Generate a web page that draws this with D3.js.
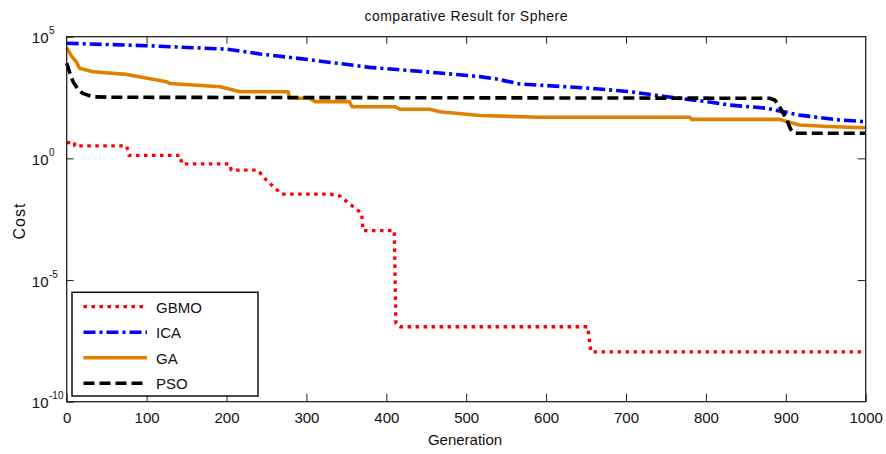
<!DOCTYPE html>
<html><head><meta charset="utf-8">
<script src="https://cdn.jsdelivr.net/npm/d3@7"></script>
<style>body{margin:0;background:#fff}svg{display:block;font-family:"Liberation Sans",Arial,sans-serif}</style>
</head><body>
<svg id="c" width="886" height="454"></svg>
<script>
const title = "comparative Result for Sphere";
const xLabel = "Generation";
const yLabel = "Cost";
const xTicks = [0,100,200,300,400,500,600,700,800,900,1000];
const yTicks = [1e-10,1e-5,1,1e5];
const yTickExp = ["-10","-5","0","5"];
const seriesNames = ["GBMO","ICA","GA","PSO"];

const gbmoGen  = [0,10,10,75,78,142,144,204,206,239,250,269,330,342,355,369,371,410,412,417,652,656,1000];
const gbmoCost = [4.47,4.47,3.24,3.24,1.33,1.33,0.59,0.59,0.33,0.33,0.126,0.034,0.034,0.028,0.0126,0.0056,0.00107,0.00107,1.66e-7,1.2e-7,1.2e-7,1.12e-8,1.12e-8];

const icaGen  = [0,100,200,242,292,379,463,517,538,567,655,705,751,801,830,876,917,967,1000];
const icaCost = [53700,42700,30900,19500,12600,5500,3310,2290,1820,1150,759,550,339,214,155,115,60,38,32];

const gaGen  = [0,6,12,16,33,75,125,129,192,217,277,279,304,311,354,357,411,417,454,467,517,592,780,782,892,917,960,1000];
const gaCost = [35500,15800,9330,5010,3630,2820,1410,1200,871,550,550,295,295,214,214,132,132,105,105,83,57.5,49,49,40,40,23.4,20,18.2];

const psoGen  = [0,4,8,14,20,33,60,880,886,890,896,901,906,911,1000];
const psoCost = [8130,3160,1410,708,468,339,324,295,251,178,79,40,15.8,10.7,10.7];

const styles = [
  {color:"#ff0000", width:3.3, dash:"3.5,4.5"},
  {color:"#0000ff", width:3.6, dash:"12,4,3,4"},
  {color:"#e08000", width:3.6, dash:null},
  {color:"#000000", width:3.6, dash:"11,5"}
];
const series = [
  {gen:gbmoGen, cost:gbmoCost},
  {gen:icaGen, cost:icaCost},
  {gen:gaGen, cost:gaCost},
  {gen:psoGen, cost:psoCost}
];

const svg = d3.select("#c");
const L=66.7, R=865.7, T=36.7, B=401.7;
const x = d3.scaleLinear().domain([0,1000]).range([L,R]);
const y = d3.scaleLog().domain([1e-10,1e5]).range([B,T]);

const line = d3.line().x(d=>x(d[0])).y(d=>y(d[1]));
const plot = svg.append("g");
series.forEach((s,i)=>{
  const pts = s.gen.map((g,j)=>[g,s.cost[j]]);
  plot.append("path").attr("d",line(pts)).attr("fill","none")
    .attr("stroke",styles[i].color).attr("stroke-width",styles[i].width)
    .attr("stroke-dasharray",styles[i].dash).attr("stroke-linejoin","round");
});

// axes
const axBottom = svg.append("g").attr("transform",`translate(0,${B})`)
  .call(d3.axisBottom(x).tickValues(xTicks).tickSizeInner(-8).tickSizeOuter(0).tickPadding(11).tickFormat(d3.format("d")));
axBottom.select(".domain").remove();
axBottom.selectAll("text").attr("font-size",15).attr("fill","#111").attr("font-family","Liberation Sans, Arial, sans-serif");
const axTop = svg.append("g").attr("transform",`translate(0,${T})`)
  .call(d3.axisTop(x).tickValues(xTicks.slice(1,-1)).tickSizeInner(-7).tickSizeOuter(0).tickFormat(""));
axTop.select(".domain").remove();
const axLeft = svg.append("g").attr("transform",`translate(${L},0)`)
  .call(d3.axisLeft(y).tickValues(yTicks).tickSizeInner(-7).tickSizeOuter(0).tickFormat(""));
axLeft.select(".domain").remove();
const axRight = svg.append("g").attr("transform",`translate(${R},0)`)
  .call(d3.axisRight(y).tickValues(yTicks.slice(1,-1)).tickSizeInner(-8).tickSizeOuter(0).tickFormat(""));
axRight.select(".domain").remove();
svg.selectAll(".tick line").attr("stroke","#222").attr("stroke-width",1);

svg.append("rect").attr("x",L).attr("y",T).attr("width",R-L).attr("height",B-T)
  .attr("fill","none").attr("stroke","#222").attr("stroke-width",1.3);

// y tick labels
yTicks.forEach((v,i)=>{
  const yy = y(v)+6.5;
  svg.append("text").attr("x",48.5).attr("y",yy).attr("text-anchor","end")
    .attr("font-size",15).attr("fill","#111").text("10");
  svg.append("text").attr("x",49).attr("y",yy-9).attr("text-anchor","start")
    .attr("font-size",10).attr("fill","#111").text(yTickExp[i]);
});

// titles
svg.append("text").attr("x",(L+R)/2).attr("y",21).attr("text-anchor","middle")
  .attr("font-size",14).attr("letter-spacing","0.5px").attr("fill","#111").text(title);
svg.append("text").attr("x",465).attr("y",445).attr("text-anchor","middle")
  .attr("font-size",15).attr("fill","#111").text(xLabel);
svg.append("text").attr("transform","translate(25,221) rotate(-90)").attr("text-anchor","middle")
  .attr("font-size",16).attr("letter-spacing","1px").attr("fill","#111").text(yLabel);

// legend
const lg = svg.append("g");
lg.append("rect").attr("x",72).attr("y",292.3).attr("width",186).attr("height",103.7)
  .attr("fill","#fff").attr("stroke","#111").attr("stroke-width",1.5);
const rows = [306.7,332.2,357.7,383.2];
seriesNames.forEach((n,i)=>{
  lg.append("line").attr("x1",83.5).attr("x2",147).attr("y1",rows[i]).attr("y2",rows[i])
    .attr("stroke",styles[i].color).attr("stroke-width",styles[i].width).attr("stroke-dasharray",styles[i].dash);
  lg.append("text").attr("x",156).attr("y",rows[i]+6).attr("font-size",15).attr("fill","#111").text(n);
});
</script>
</body></html>
